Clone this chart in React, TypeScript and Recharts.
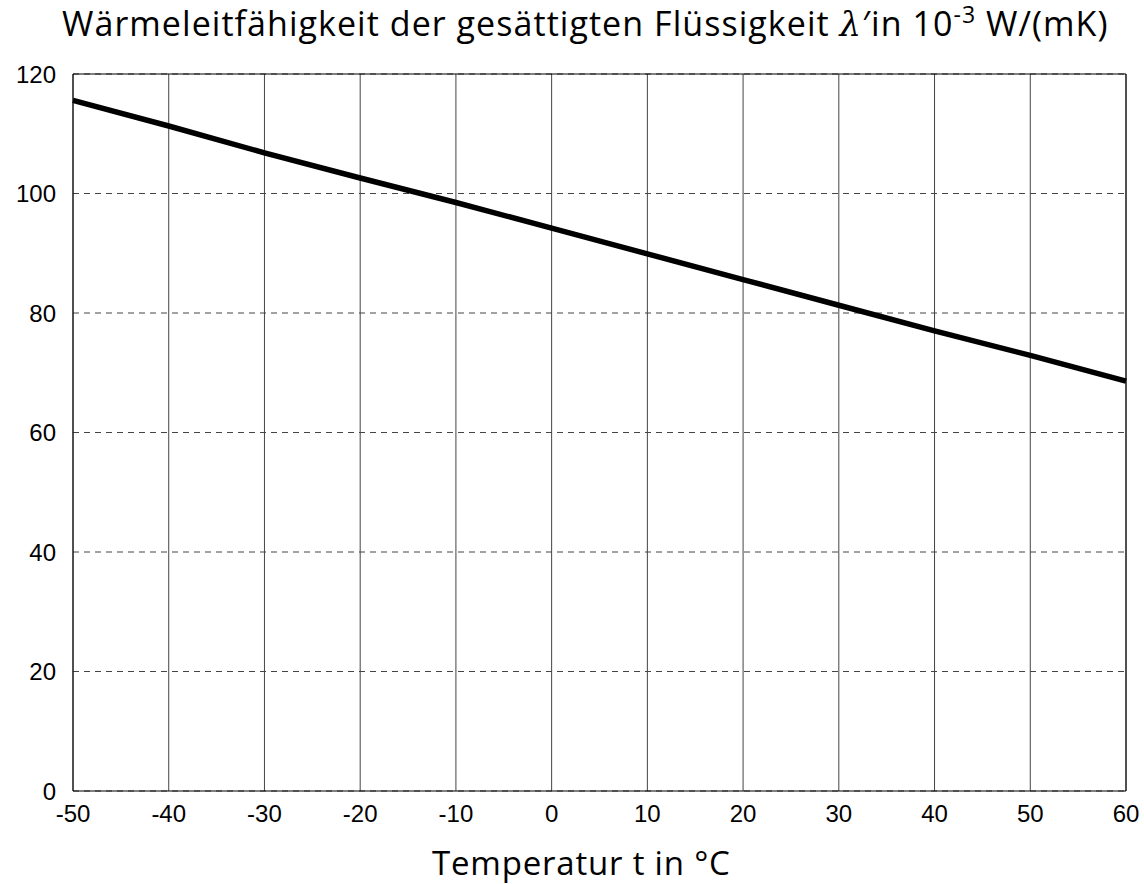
import { CartesianGrid, Line, LineChart, ReferenceLine, XAxis, YAxis } from "recharts";

// Temperatur in °C
const temps = [-50, -40, -30, -20, -10, 0, 10, 20, 30, 40, 50, 60];
// λ' in 10^-3 W/(mK)
const lambdaLiquid = [115.6, 111.3, 106.8, 102.6, 98.5, 94.2, 89.9, 85.6, 81.3, 77.0, 72.9, 68.6];

const xTicks = [-50, -40, -30, -20, -10, 0, 10, 20, 30, 40, 50, 60];
const yTicks = [0, 20, 40, 60, 80, 100, 120];

const data = temps.map((t, i) => ({ t, lambda: lambdaLiquid[i] }));

const tickFont = { fontFamily: "'Liberation Sans', Arial, sans-serif", fontSize: 24, fill: "#000" };
const textFont = "'Open Sans', 'Noto Sans', sans-serif";

export default function App() {
  return (
    <div style={{ position: "absolute", left: 0, top: 0, width: 1144, height: 884, background: "#fff" }}>
      <div
        style={{
          position: "absolute",
          left: 62,
          top: 0,
          fontFamily: textFont,
          fontSize: 34,
          letterSpacing: 1.05,
          lineHeight: "46px",
          color: "#000",
          whiteSpace: "nowrap",
        }}
      >
        Wärmeleitfähigkeit der gesättigten Flüssigkeit{" "}
        <span style={{ fontFamily: "'DejaVu Serif', serif", fontStyle: "italic" }}>λ</span>
        ′in 10<sup style={{ fontSize: 23, verticalAlign: "13px", lineHeight: 0 }}>-3</sup> W/(mK)
      </div>

      <LineChart
        width={1144}
        height={884}
        data={data}
        margin={{ top: 74, right: 18, left: 13, bottom: 63 }}
      >
        <CartesianGrid horizontal={false} vertical stroke="#444" strokeWidth={1} />
        <CartesianGrid horizontal vertical={false} stroke="#444" strokeDasharray="6 5" strokeWidth={1} />
        <XAxis
          dataKey="t"
          type="number"
          domain={[-50, 60]}
          ticks={xTicks}
          interval={0}
          height={30}
          stroke="#000"
          tickLine={false}
          tickSize={0}
          tickMargin={14}
          tick={tickFont}
        />
        <YAxis
          type="number"
          domain={[0, 120]}
          ticks={yTicks}
          interval={0}
          width={60}
          stroke="#000"
          tickLine={false}
          tickSize={0}
          tickMargin={17}
          tick={tickFont}
        />
        <ReferenceLine y={120} stroke="#000" strokeWidth={1} ifOverflow="visible" />
        <ReferenceLine x={60} stroke="#000" strokeWidth={1} ifOverflow="visible" />
        <Line
          type="linear"
          dataKey="lambda"
          stroke="#000"
          strokeWidth={5.5}
          dot={false}
          activeDot={false}
          isAnimationActive={false}
        />
      </LineChart>

      <div
        style={{
          position: "absolute",
          left: 432,
          top: 840,
          fontFamily: textFont,
          fontSize: 33,
          letterSpacing: 0.8,
          lineHeight: "45px",
          color: "#000",
          whiteSpace: "nowrap",
        }}
      >
        Temperatur t in °C
      </div>
    </div>
  );
}
